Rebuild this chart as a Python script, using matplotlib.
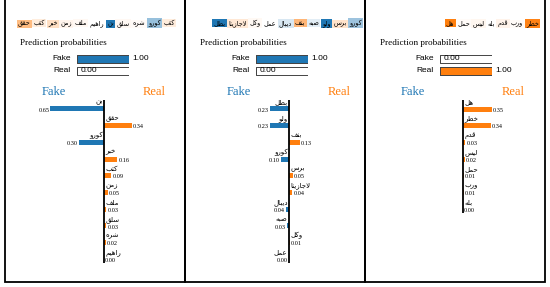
import math
import matplotlib
matplotlib.use("Agg")
import matplotlib.pyplot as plt
from matplotlib.colors import to_rgba
from matplotlib.patches import Rectangle

W, H = 550, 287
BLUE = "#1f77b4"
ORANGE = "#ff7f0e"

# text of each sample (logical order), features sorted as in the LIME plot
# negative weight -> Fake, positive weight -> Real
text1 = "كتب كورو شره سلق بن راهيم ملف زمن خبر كتب حقق"
words1 = ["بن", "حقق", "كورو", "خبر", "كتب", "زمن", "ملف", "سلق", "شره", "راهيم"]
weights1 = [-0.65, 0.34, -0.30, 0.16, 0.09, 0.05, 0.03, 0.03, 0.02, 0.00]
proba1 = [1.00, 0.00]

text2 = "كورو برس ولو صبه بنف ديبال عمل وكل لاجازيتا بطل"
words2 = ["بطل", "ولو", "بنف", "كورو", "برس", "لاجازيتا", "ديبال", "صبه", "وكل", "عمل"]
weights2 = [-0.23, -0.23, 0.13, -0.10, 0.05, 0.04, -0.04, -0.03, 0.01, -0.00]
proba2 = [1.00, 0.00]

text3 = "خطر ورب قدم بله ليس حمل هل"
words3 = ["هل", "خطر", "قدم", "ليس", "حمل", "ورب", "بله"]
weights3 = [0.35, 0.34, 0.03, 0.02, 0.01, 0.01, 0.00]
proba3 = [0.00, 1.00]

classes = ["Fake", "Real"]

# matplotlib does no arabic shaping, so pick presentation forms by hand
BASE = {'ا': 0xFE8D, 'ب': 0xFE8F, 'ت': 0xFE95, 'ج': 0xFE9D, 'ح': 0xFEA1, 'خ': 0xFEA5,
        'د': 0xFEA9, 'ر': 0xFEAD, 'ز': 0xFEAF, 'س': 0xFEB1, 'ش': 0xFEB5, 'ص': 0xFEB9,
        'ط': 0xFEC1, 'ع': 0xFEC9, 'ف': 0xFED1, 'ق': 0xFED5, 'ك': 0xFED9, 'ل': 0xFEDD,
        'م': 0xFEE1, 'ن': 0xFEE5, 'ه': 0xFEE9, 'و': 0xFEED, 'ي': 0xFEF1}
RIGHT_ONLY = set('ادرزو')


def shape(word):
    units = []
    i = 0
    while i < len(word):
        if word[i] == 'ل' and i + 1 < len(word) and word[i + 1] == 'ا':
            units.append('LA')
            i += 2
        else:
            units.append(word[i])
            i += 1
    out = []
    for k, u in enumerate(units):
        prev = k > 0 and units[k - 1] not in RIGHT_ONLY and units[k - 1] != 'LA'
        if u == 'LA':
            out.append(chr(0xFEFC if prev else 0xFEFB))
            continue
        base = BASE[u]
        if u in RIGHT_ONLY:
            out.append(chr(base + 1 if prev else base))
        else:
            nxt = k + 1 < len(units)
            form = {(False, False): 0, (True, False): 1, (False, True): 2, (True, True): 3}[(prev, nxt)]
            out.append(chr(base + form))
    return ''.join(reversed(out))


def is_neg(w):
    return math.copysign(1, w) < 0


fig = plt.figure(figsize=(W / 100, H / 100), dpi=100)
canvas = fig.add_axes([0, 0, 1, 1])
canvas.set_xlim(0, W)
canvas.set_ylim(H, 0)
canvas.axis('off')
renderer = fig.canvas.get_renderer()


def px_axes(left, top, width, height):
    return fig.add_axes([left / W, 1 - (top + height) / H, width / W, height / H])


panels = [
    (5, text1, words1, weights1, proba1, 175, 104, 77),
    (185, text2, words2, weights2, proba2, 362, 289, 256),
    (365, text3, words3, weights3, proba3, 539, 463, 440),
]

ROW0, STEP, SCALE = 109, 16.7, 82.5

for x0, text, words, weights, proba, title_right, axis_x, box_x in panels:
    canvas.add_patch(Rectangle((x0, -5), 180, 287, fill=False, lw=1.3, ec='black'))

    # highlighted text line, laid out right to left
    wmax = max(abs(w) for w in weights)
    wdict = dict(zip(words, weights))
    x = title_right
    for word in text.split():
        w = wdict.get(word, 0.0)
        t = canvas.text(x, 25, shape(word), ha='right', va='baseline', fontsize=4.7,
                        family='DejaVu Sans')
        if abs(w) > 0:
            c = to_rgba(BLUE if w < 0 else ORANGE, abs(w) / wmax)
            t.set_bbox(dict(boxstyle='square,pad=0.2', fc=c, ec='none'))
        x -= t.get_window_extent(renderer).width + 2.8

    # prediction probabilities
    canvas.text(x0 + 15, 43, "Prediction probabilities", ha='left', va='center',
                fontsize=6.6, family='Liberation Serif')
    pax = px_axes(box_x, 53, 52, 24)
    rows = range(len(classes))
    pax.barh(rows, [1, 1], height=0.72, color='white', edgecolor='#444444', lw=0.7)
    pax.barh(rows, proba, height=0.72, color=[BLUE, ORANGE], edgecolor='#444444', lw=0.7)
    pax.set_xlim(0, 1)
    pax.set_ylim(1.5, -0.5)
    pax.axis('off')
    for i, (name, p) in enumerate(zip(classes, proba)):
        pax.annotate(name, xy=(0, i), xytext=(-4.5, 0), textcoords='offset points',
                     ha='right', va='center', fontsize=6, family='Liberation Sans')
        pax.annotate(f"{p:.2f}", xy=(p, i), xytext=(2.5, 0), textcoords='offset points',
                     ha='left', va='center', fontsize=6, family='Liberation Sans')

    # explanation bars
    canvas.text(axis_x - 50, 92, "Fake", ha='center', va='center', fontsize=9,
                family='Liberation Serif', color=BLUE)
    canvas.text(axis_x + 50, 92, "Real", ha='center', va='center', fontsize=9,
                family='Liberation Serif', color=ORANGE)
    n = len(words)
    top = 100
    bottom = ROW0 + STEP * (n - 1) + 4
    eax = px_axes(axis_x - 0.8 * SCALE, top, 1.6 * SCALE, bottom - top)
    colors = [BLUE if is_neg(w) else ORANGE for w in weights]
    eax.barh(range(n), weights, height=5 / STEP, color=colors)
    eax.axvline(0, color='black', lw=1.3)
    eax.set_xlim(-0.8, 0.8)
    eax.set_ylim((bottom - ROW0) / STEP, (top - ROW0) / STEP)
    eax.axis('off')
    for i, (word, w) in enumerate(zip(words, weights)):
        neg = is_neg(w)
        eax.annotate(shape(word), xy=(0, i - 0.4), xytext=(-1 if neg else 1, 0),
                     textcoords='offset points', ha='right' if neg else 'left',
                     va='center', fontsize=5, family='DejaVu Sans')
        eax.annotate(f"{abs(w):.2f}", xy=(w, i), xytext=(-0.8 if neg else 0.8, -0.8),
                     textcoords='offset points', ha='right' if neg else 'left',
                     va='center', fontsize=4.5, family='Liberation Serif')

fig.savefig("out.png", dpi=100)
